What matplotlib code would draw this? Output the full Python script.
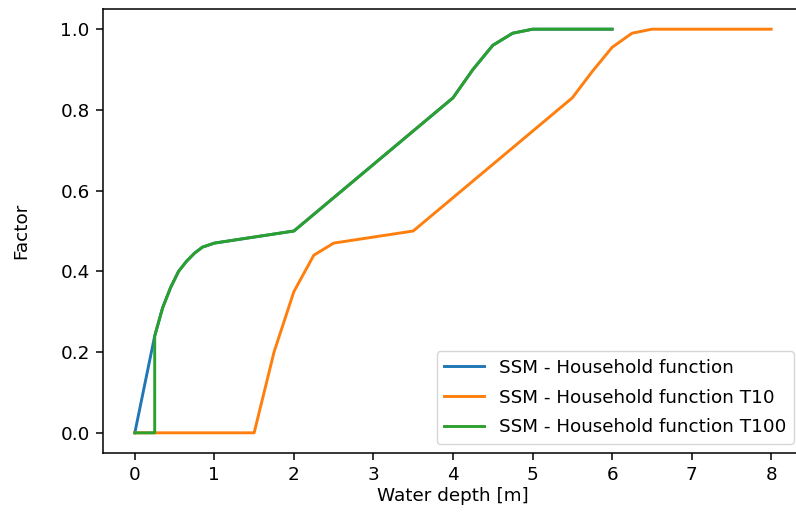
import matplotlib
matplotlib.use("Agg")
import matplotlib.pyplot as plt

# water depth [m] / factor
x_base = [0, 0.25, 0.35, 0.45, 0.55, 0.65, 0.75, 0.85, 1.0, 2.0, 3.0, 4.0, 4.25, 4.5, 4.75, 5.0, 6.0]
y_base = [0, 0.24, 0.31, 0.36, 0.40, 0.425, 0.445, 0.46, 0.47, 0.50, 0.665, 0.83, 0.90, 0.96, 0.99, 1.0, 1.0]

x_t10 = [0, 1.5, 1.75, 2.0, 2.25, 2.5, 3.5, 5.5, 5.75, 6.0, 6.25, 6.5, 8.0]
y_t10 = [0, 0, 0.2, 0.35, 0.44, 0.47, 0.50, 0.83, 0.895, 0.955, 0.99, 1.0, 1.0]

x_t100 = [0, 0.25] + x_base[1:]
y_t100 = [0, 0] + y_base[1:]

labels = ["SSM - Household function", "SSM - Household function T10", "SSM - Household function T100"]

plt.rcParams["font.size"] = 13.2
plt.rcParams["axes.linewidth"] = 1.1
plt.rcParams["xtick.major.size"] = 5
plt.rcParams["ytick.major.size"] = 5
plt.rcParams["xtick.major.width"] = 1.1
plt.rcParams["ytick.major.width"] = 1.1
plt.rcParams["xtick.major.pad"] = 4.5
plt.rcParams["ytick.major.pad"] = 4.5

fig = plt.figure(figsize=(7.96, 5.12), dpi=100)
ax = fig.add_axes([103 / 796, 59 / 512, 700 / 796, 444 / 512])

ax.plot(x_base, y_base, color="C0", lw=2.1, label=labels[0])
ax.plot(x_t10, y_t10, color="C1", lw=2.1, label=labels[1])
ax.plot(x_t100, y_t100, color="C2", lw=2.1, label=labels[2])

ax.set_xlim(-0.4, 8.4)
ax.set_ylim(-0.05, 1.05)
ax.set_xticks(range(0, 9))
ax.set_yticks([0.0, 0.2, 0.4, 0.6, 0.8, 1.0])
ax.set_xlabel("Water depth [m]", labelpad=2)
ax.set_ylabel("Factor", labelpad=22)
ax.legend(loc="lower right", labelspacing=0.65, handlelength=2.2)

fig.savefig("out.png", dpi=100)
